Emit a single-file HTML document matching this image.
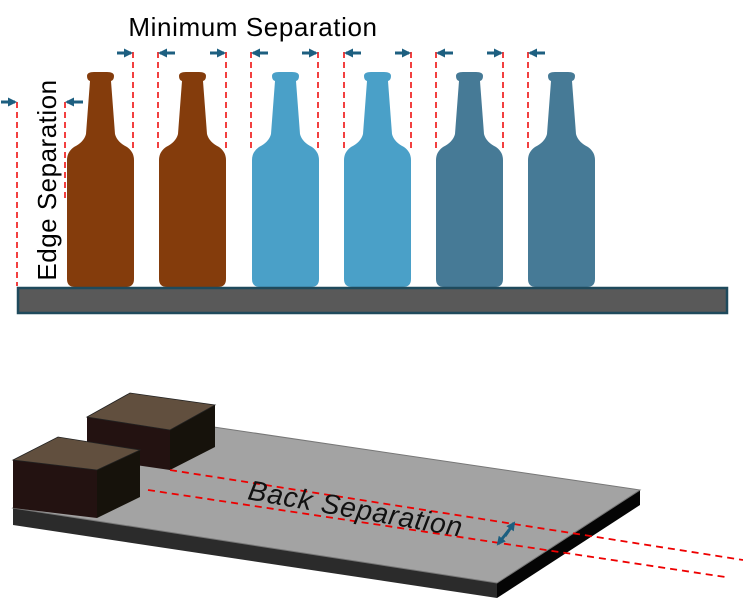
<!DOCTYPE html>
<html><head><style>body{margin:0;background:#fff}svg{display:block}</style></head><body>
<svg width="743" height="602" viewBox="0 0 743 602" xmlns="http://www.w3.org/2000/svg">
<defs>
<path id="b" d="M20,4 Q20,0 27,0 L40,0 Q47,0 47,4 Q47,8 44,9 L48,62 Q50,70 60,75 Q67,80 67,88 L67,207 Q67,215 59,215 L8,215 Q0,215 0,207 L0,88 Q0,80 7,75 Q17,70 19,62 L23,9 Q20,8 20,4 Z"/>
<marker id="ah" markerWidth="9" markerHeight="9" refX="7" refY="4.5" orient="auto" markerUnits="userSpaceOnUse"><path d="M0,0 L9,4.5 L0,9 Z" fill="#1d5f80"/></marker>
</defs>
<text x="253" y="36" font-family="Liberation Sans, sans-serif" font-size="26" letter-spacing="0.6" text-anchor="middle" fill="#000">Minimum Separation</text>
<text transform="translate(56,180) rotate(-90)" font-family="Liberation Sans, sans-serif" font-size="26" letter-spacing="0.5" text-anchor="middle" fill="#000">Edge Separation</text>
<g stroke="#e00" stroke-width="1.5" stroke-dasharray="6,4" fill="none">
<line x1="17" y1="102" x2="17" y2="286"/><line x1="65" y1="102" x2="65" y2="200"/>
<line x1="133" y1="52" x2="133" y2="150"/><line x1="158" y1="52" x2="158" y2="150"/>
<line x1="226" y1="52" x2="226" y2="150"/><line x1="251" y1="52" x2="251" y2="150"/>
<line x1="318" y1="52" x2="318" y2="150"/><line x1="344" y1="52" x2="344" y2="150"/>
<line x1="411" y1="52" x2="411" y2="150"/><line x1="436" y1="52" x2="436" y2="150"/>
<line x1="503" y1="52" x2="503" y2="150"/><line x1="528" y1="52" x2="528" y2="150"/>
</g>
<g stroke="#1d5f80" stroke-width="3" marker-end="url(#ah)">
<line x1="1" y1="102" x2="15" y2="102"/><line x1="83" y1="102" x2="67" y2="102"/>
<line x1="117" y1="53" x2="131" y2="53"/><line x1="175" y1="53" x2="160" y2="53"/>
<line x1="210" y1="53" x2="224" y2="53"/><line x1="268" y1="53" x2="253" y2="53"/>
<line x1="302" y1="53" x2="316" y2="53"/><line x1="361" y1="53" x2="346" y2="53"/>
<line x1="395" y1="53" x2="409" y2="53"/><line x1="453" y1="53" x2="438" y2="53"/>
<line x1="487" y1="53" x2="501" y2="53"/><line x1="545" y1="53" x2="530" y2="53"/>
</g>
<use href="#b" x="67" y="72" fill="#843c0c"/>
<use href="#b" x="159" y="72" fill="#843c0c"/>
<use href="#b" x="252" y="72" fill="#4aa0c8"/>
<use href="#b" x="344" y="72" fill="#4aa0c8"/>
<use href="#b" x="436" y="72" fill="#467a96"/>
<use href="#b" x="528" y="72" fill="#467a96"/>
<rect x="18" y="288" width="709" height="25" fill="#595959" stroke="#1f4a5c" stroke-width="2.5"/>
<polygon points="13,508 497,583 497,598 13,525" fill="#2b2b2b"/>
<polygon points="497,583 640,490 640,505 497,598" fill="#050505"/>
<polygon points="13,508 497,583 640,490 180,422 110,455" fill="#a3a3a3" stroke="#777" stroke-width="1"/>
<polygon points="87,417 170,430 170,470 87,458" fill="#231211"/>
<polygon points="170,430 215,405 215,447 170,470" fill="#16120b"/>
<polygon points="87,417 130,393 215,405 170,430" fill="#614f3e" stroke="#222" stroke-width="0.8"/>
<polygon points="13,460 97,470 97,518 13,508" fill="#231211"/>
<polygon points="97,470 140,450 140,497 97,518" fill="#16120b"/>
<polygon points="13,460 58,437 140,450 97,470" fill="#614f3e" stroke="#222" stroke-width="0.8"/>
<g stroke="#e00" stroke-width="1.8" stroke-dasharray="7,5">
<line x1="170" y1="470" x2="743" y2="560"/>
<line x1="148" y1="490" x2="725" y2="577"/>
</g>
<text transform="translate(354,518) rotate(10)" font-family="Liberation Sans, sans-serif" font-style="italic" font-size="28" letter-spacing="0.8" text-anchor="middle" fill="#111">Back Separation</text>
<g stroke="#1d5f80" stroke-width="3" marker-end="url(#ah)">
<line x1="505" y1="536" x2="514" y2="523"/><line x1="509" y1="530" x2="498" y2="544"/>
</g>
</svg>
</body></html>
